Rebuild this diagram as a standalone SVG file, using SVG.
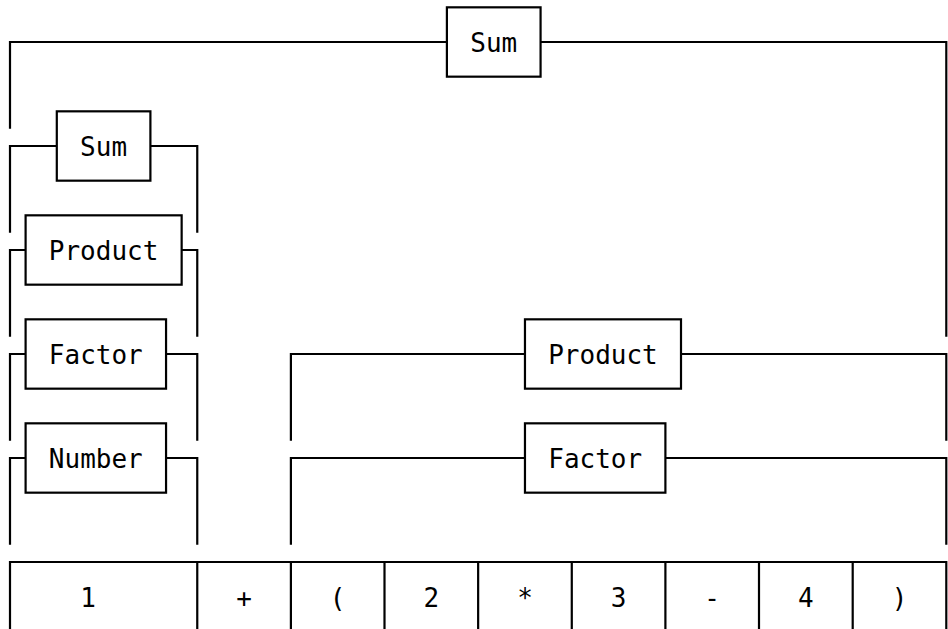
<svg xmlns="http://www.w3.org/2000/svg" width="948" height="629" viewBox="0 0 948 629">
  <style>
    .ln { fill: none; stroke: #000; stroke-width: 2.2; stroke-linejoin: miter; stroke-linecap: butt; }
    .box { fill: #fff; stroke: #000; stroke-width: 2.2; }
    .lbl { font-family: "DejaVu Sans Mono", "Liberation Mono", monospace; font-size: 26px; fill: #000; text-anchor: middle; }
  </style>
  <rect x="0" y="0" width="948" height="629" fill="#fff"/>

  <!-- brackets joining each rule to the span it covers -->
  <g id="connectors" class="ln">
    <!-- Sum (root) -->
    <path d="M10,128.67 V42 H446.9"/>
    <path d="M540.57,42 H946.3 V336.67"/>
    <!-- Sum (left) -->
    <path d="M10,232.67 V146 H56.8"/>
    <path d="M150.4,146 H197.26 V232.67"/>
    <!-- Product (left) -->
    <path d="M10,336.67 V250 H25.6"/>
    <path d="M181.65,250 H197.26 V336.67"/>
    <!-- Factor (left) -->
    <path d="M10,440.67 V354 H25.6"/>
    <path d="M166.05,354 H197.26 V440.67"/>
    <!-- Number -->
    <path d="M10,544.67 V458 H25.6"/>
    <path d="M166.05,458 H197.26 V544.67"/>
    <!-- Product (right) -->
    <path d="M290.9,440.67 V354 H524.97"/>
    <path d="M681,354 H946.3 V440.67"/>
    <!-- Factor (right) -->
    <path d="M290.9,544.67 V458 H524.97"/>
    <path d="M665.4,458 H946.3 V544.67"/>
  </g>

  <!-- rule nodes -->
  <g id="sum-root">
    <rect class="box" x="446.9" y="7.33" width="93.67" height="69.34"/>
    <text class="lbl" x="493.75" y="51.8">Sum</text>
  </g>
  <g id="sum-left">
    <rect class="box" x="56.8" y="111.33" width="93.6" height="69.34"/>
    <text class="lbl" x="103.6" y="155.8">Sum</text>
  </g>
  <g id="product-left">
    <rect class="box" x="25.6" y="215.33" width="156.05" height="69.34"/>
    <text class="lbl" x="103.6" y="259.8">Product</text>
  </g>
  <g id="factor-left">
    <rect class="box" x="25.6" y="319.33" width="140.45" height="69.34"/>
    <text class="lbl" x="95.8" y="363.8">Factor</text>
  </g>
  <g id="number">
    <rect class="box" x="25.6" y="423.33" width="140.45" height="69.34"/>
    <text class="lbl" x="95.8" y="467.8">Number</text>
  </g>
  <g id="product-right">
    <rect class="box" x="524.97" y="319.33" width="156.03" height="69.34"/>
    <text class="lbl" x="603" y="363.8">Product</text>
  </g>
  <g id="factor-right">
    <rect class="box" x="524.97" y="423.33" width="140.43" height="69.34"/>
    <text class="lbl" x="595.2" y="467.8">Factor</text>
  </g>

  <!-- token row -->
  <g id="tokens">
    <path class="ln" d="M10,631.33 V562 H946.3 V631.33 M10,631.33 H946.3"/>
    <path class="ln" d="M197.26,562 V631.33 M290.9,562 V631.33 M384.5,562 V631.33 M478.15,562 V631.33 M571.78,562 V631.33 M665.4,562 V631.33 M759,562 V631.33 M852.7,562 V631.33"/>
    <g id="tok-1"><text class="lbl" x="88" y="606.5">1</text></g>
    <g id="tok-plus"><text class="lbl" x="244.1" y="606.5">+</text></g>
    <g id="tok-lparen"><text class="lbl" x="337.7" y="606.5">(</text></g>
    <g id="tok-2"><text class="lbl" x="431.3" y="606.5">2</text></g>
    <g id="tok-star"><text class="lbl" x="525" y="606.5">*</text></g>
    <g id="tok-3"><text class="lbl" x="618.6" y="606.5">3</text></g>
    <g id="tok-minus"><text class="lbl" x="712.2" y="606.5">-</text></g>
    <g id="tok-4"><text class="lbl" x="805.9" y="606.5">4</text></g>
    <g id="tok-rparen"><text class="lbl" x="899.5" y="606.5">)</text></g>
  </g>
</svg>
